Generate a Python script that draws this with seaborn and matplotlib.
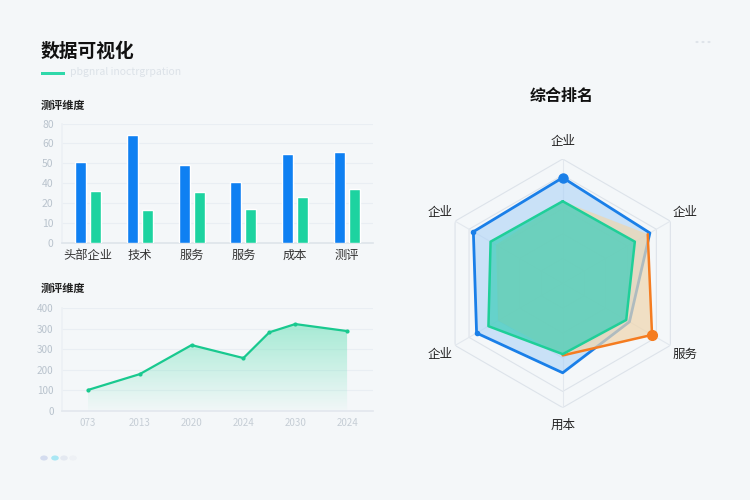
import numpy as np
import pandas as pd
import matplotlib
matplotlib.use("Agg")
import matplotlib.pyplot as plt
from matplotlib.patches import Circle, Rectangle
import seaborn as sns

# ---------------- data ----------------
bar_categories = ["头部企业", "技术", "服务", "服务", "成本", "测评"]
bar_series_a = [40.7, 54.0, 39.3, 30.8, 44.7, 45.7]   # blue
bar_series_b = [26.2, 16.5, 25.8, 17.2, 23.2, 27.2]   # green
bar_ytick_labels = ["0", "10", "20", "40", "50", "60", "80"]

line_x = [0, 1, 2, 3, 3.5, 4, 5]
line_values = [102, 179, 320, 257, 382, 422, 388]
line_xtick_pos = [0, 1, 2, 3, 4, 5]
line_xtick_labels = ["073", "2013", "2020", "2024", "2030", "2024"]
line_ytick_labels = ["0", "100", "200", "300", "300", "400"]

radar_labels = ["企业", "企业", "服务", "用本", "企业", "企业"]
radar_blue = [85, 81, 62, 72, 80, 83]
radar_orange = [66, 79, 83, 58, 60, 62]
radar_green = [66, 67, 59, 57, 69, 67]
radar_rings = [20, 40, 60, 87, 100]

# ---------------- style ----------------
sns.set_theme(style="white")
plt.rcParams["font.family"] = ["Noto Sans CJK SC", "DejaVu Sans"]
plt.rcParams["axes.unicode_minus"] = False

BG = "#f4f7f9"
BLUE = "#0f80f2"
GREEN = "#1dd3a0"
TXT = "#222222"
TICK = "#b9c3cd"

fig = plt.figure(figsize=(7.5, 5), dpi=100, facecolor=BG)

# titles / decorations
fig.text(41 / 750, 1 - 51 / 500, "数据可视化", fontsize=13.5, fontweight="bold",
         color="#111111", va="center", ha="left")
fig.patches.append(Rectangle((41 / 750, 1 - 75 / 500), 24 / 750, 3.5 / 500,
                             transform=fig.transFigure, color="#2fd8aa", lw=0))
fig.text(70 / 750, 1 - 72 / 500, "pbgnral inoctrgrpation", fontsize=7.5,
         color="#dce2e8", va="center", ha="left")
fig.text(41 / 750, 1 - 105 / 500, "测评维度", fontsize=8, fontweight="bold",
         color=TXT, va="center", ha="left")
fig.text(41 / 750, 1 - 288 / 500, "测评维度", fontsize=8, fontweight="bold",
         color=TXT, va="center", ha="left")
fig.text(562 / 750, 1 - 96 / 500, "综合排名", fontsize=11.5, fontweight="bold",
         color="#111111", va="center", ha="center")

for cx, col in [(44, "#d4dcef"), (55, "#a9e7f4"), (64, "#e4e9f1"), (73, "#eef1f5")]:
    fig.patches.append(Circle((cx / 750, 1 - 458 / 500), 3.8 / 750,
                              transform=fig.transFigure, color=col, lw=0))
for cx in [697, 703, 709]:
    fig.patches.append(Circle((cx / 750, 1 - 42 / 500), 1.6 / 750,
                              transform=fig.transFigure, color="#dfe4ea", lw=0))

# ---------------- bar chart ----------------
ax1 = fig.add_axes([62 / 750, 1 - 243.3 / 500, 311 / 750, 119.8 / 500])
ax1.set_facecolor("none")
n = len(bar_categories)
bar_df = pd.DataFrame({
    "pos": list(range(n)) * 2,
    "series": ["A"] * n + ["B"] * n,
    "value": bar_series_a + bar_series_b,
})
sns.barplot(data=bar_df, x="pos", y="value", hue="series",
            palette={"A": BLUE, "B": GREEN}, width=0.58, gap=0.27,
            saturation=1, legend=False, ax=ax1, zorder=3)
ax1.set_xlim(-0.5, n - 0.5)
ax1.set_ylim(0, 60)
ax1.set_yticks(range(0, 61, 10))
ax1.set_yticklabels(bar_ytick_labels)
ax1.set_xticks(range(n))
ax1.set_xticklabels(bar_categories)
ax1.set_xlabel("")
ax1.set_ylabel("")
ax1.yaxis.grid(True, color="#e9eef3", lw=0.8)
ax1.tick_params(axis="y", colors=TICK, labelsize=7.5, length=0, pad=6)
ax1.tick_params(axis="x", colors="#333333", labelsize=8.8, length=0, pad=4)
for s in ["top", "right"]:
    ax1.spines[s].set_visible(False)
ax1.spines["left"].set_color("#edf1f5")
ax1.spines["bottom"].set_color("#dfe5eb")

# ---------------- line chart ----------------
ax2 = fig.add_axes([62 / 750, 1 - 411 / 500, 311 / 750, 103 / 500])
ax2.set_facecolor("none")
line_df = pd.DataFrame({"x": line_x, "y": line_values})
sns.lineplot(data=line_df, x="x", y="y", color="#19c98f", lw=1.6,
             marker="o", markersize=3, markeredgewidth=0, ax=ax2, zorder=4)
poly = ax2.fill_between(line_x, line_values, 0, color="none", lw=0)
top = max(line_values)
grad = np.zeros((256, 1, 4))
grad[:, 0, 0] = 0.45
grad[:, 0, 1] = 0.89
grad[:, 0, 2] = 0.74
grad[:, 0, 3] = np.linspace(0.02, 0.6, 256)
im = ax2.imshow(grad, extent=[line_x[0], line_x[-1], 0, top], origin="lower",
                aspect="auto", zorder=2)
im.set_clip_path(poly.get_paths()[0], transform=ax2.transData)
ax2.set_xlim(-0.5, 5.5)
ax2.set_ylim(0, 500)
ax2.set_yticks(range(0, 501, 100))
ax2.set_yticklabels(line_ytick_labels)
ax2.set_xticks(line_xtick_pos)
ax2.set_xticklabels(line_xtick_labels)
ax2.set_xlabel("")
ax2.set_ylabel("")
ax2.yaxis.grid(True, color="#e9eef3", lw=0.8)
ax2.tick_params(axis="y", colors=TICK, labelsize=7.2, length=0, pad=6)
ax2.tick_params(axis="x", colors="#c6ced6", labelsize=7, length=0, pad=5)
for s in ["top", "right"]:
    ax2.spines[s].set_visible(False)
ax2.spines["left"].set_color("#edf1f5")
ax2.spines["bottom"].set_color("#e3e8ee")

# ---------------- radar ----------------
R = 124.3
ax3 = fig.add_axes([(562.7 - R) / 750, 1 - (283.3 + R) / 500, 2 * R / 750, 2 * R / 500],
                   projection="polar")
ax3.set_facecolor("none")
ax3.set_theta_offset(np.pi / 2)
ax3.set_theta_direction(-1)
ax3.set_ylim(0, 100)
ax3.grid(False)
ax3.spines["polar"].set_visible(False)
ax3.set_xticks([])
ax3.set_yticks([])

m = len(radar_labels)
ang = np.linspace(0, 2 * np.pi, m, endpoint=False)
angc = np.append(ang, ang[0])

def closed(v):
    return np.append(v, v[0])

for r in radar_rings:
    ax3.plot(angc, [r] * (m + 1), color="#dde3ea", lw=0.8, zorder=1)
for a in ang:
    ax3.plot([a, a], [0, 100], color="#e3e8ee", lw=0.8, zorder=1)

ax3.fill(angc, closed(radar_blue), color="#a6cff7", alpha=0.55, lw=0, zorder=2)
ax3.plot(angc, closed(radar_blue), color="#1a7fe8", lw=2.0, zorder=3)
ax3.fill(angc, closed(radar_orange), color="#efd6ae", alpha=0.7, lw=0, zorder=4)
ax3.plot(ang[1:4], radar_orange[1:4], color="#f57c20", lw=1.8, zorder=5)
ax3.fill(angc, closed(radar_green), color="#3fcdbb", alpha=0.72, lw=0, zorder=6)
ax3.plot(angc, closed(radar_green), color="#1fcf98", lw=1.8, zorder=7)

ax3.plot([ang[0]], [radar_blue[0]], "o", color="#1a7fe8", ms=6.5, zorder=8)
ax3.plot([ang[4], ang[5]], [radar_blue[4], radar_blue[5]], "o",
         color="#1a7fe8", ms=3, zorder=8)
ax3.plot([ang[2]], [radar_orange[2]], "o", color="#f57c20", ms=7, zorder=8)

for a, lab in zip(ang, radar_labels):
    ax3.text(a, 114, lab, fontsize=9, color="#222222", ha="center",
             va="center", clip_on=False)

fig.savefig("out.png", dpi=100, facecolor=BG)
